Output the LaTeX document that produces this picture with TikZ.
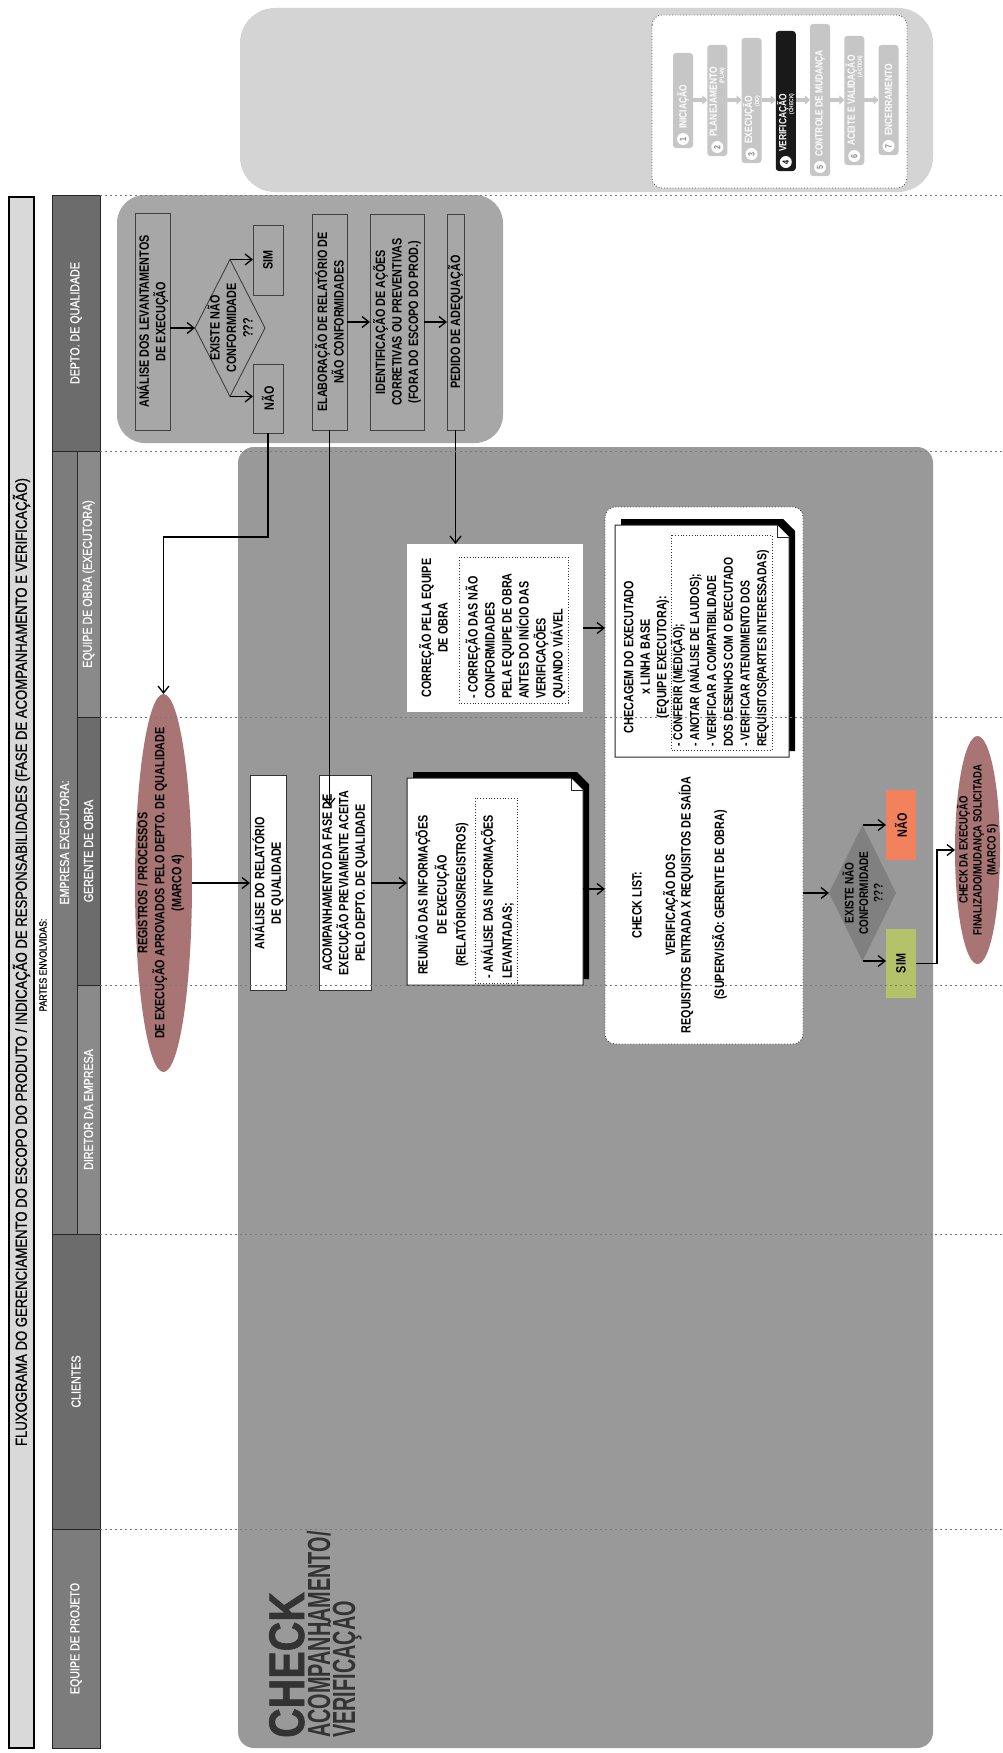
\documentclass[tikz,border=0pt]{standalone}
\usepackage{fontspec}
\setmainfont{Liberation Sans}[FakeStretch=0.8]
\newfontfamily\headfont{Liberation Sans}[FakeStretch=0.82,FakeBold=0.8]
\newfontfamily\checkfont{Liberation Sans}[FakeStretch=0.62]
\newfontfamily\checkbig{Liberation Sans}[FakeStretch=0.82,FakeBold=1.2]
\usetikzlibrary{shapes.geometric,arrows.meta,calc}

\definecolor{topgray}{HTML}{D4D4D4}
\definecolor{qgray}{HTML}{A7A7A7}
\definecolor{biggray}{HTML}{999999}
\definecolor{hdark}{HTML}{6C6C6C}
\definecolor{hmid}{HTML}{7C7C7C}
\definecolor{hlight}{HTML}{8A8A8A}
\definecolor{titlegray}{HTML}{D9D9D9}
\definecolor{rose}{HTML}{A87574}
\definecolor{naored}{HTML}{F2825E}
\definecolor{simgreen}{HTML}{B4C36A}
\definecolor{stripgray}{HTML}{C6C6C6}
\definecolor{lanedot}{HTML}{7A7A7A}
\definecolor{dqgray}{HTML}{808080}

% document sheet with dog-ear and black drop shadow: x0 y0 x1 y1
\newcommand\docsheet[4]{%
  \fill[black] ({#1+6},{#2-6}) -- ({#3-6},{#2-6}) -- ({#3+6},{#2+6}) -- ({#3+6},{#4-6}) -- ({#1+6},{#4-6}) -- cycle;
  \draw[draw=black!85,line width=1pt,fill=white] (#1,#2) -- ({#3-12},#2) -- (#3,{#2+12}) -- (#3,#4) -- (#1,#4) -- cycle;
  \draw[draw=black!85,line width=0.8pt,fill=white] ({#3-12},#2) -- ({#3-12},{#2+12}) -- (#3,{#2+12});
}

\tikzset{
  vnode/.style 2 args={rotate=90,minimum width=#1,minimum height=#2,inner sep=0pt,outer sep=0pt},
  bx/.style={font=\bfseries\fontsize{13.5}{16.5}\selectfont,align=center,text=black},
  lbl/.style={bx,rotate=90,inner sep=0pt},
  qbx/.style={bx,draw=black!75,line width=0.9pt,fill=qgray},
  wbx/.style={bx,draw=black!80,line width=1pt,fill=white},
  hcell/.style={draw=black!85,line width=1pt,text=white,font=\headfont\fontsize{13}{14}\selectfont,align=center},
  flow/.style={line width=1.3pt,-{Straight Barb[length=7pt,width=11pt,line width=1.3pt]}},
  lane/.style={draw=lanedot,line width=1pt,dash pattern=on 2pt off 3pt},
  dotbox/.style={draw=black!80,line width=0.8pt,dotted},
  strip/.style={fill=stripgray,rounded corners=3pt},
  numc/.style={circle,fill=white,minimum size=12pt,inner sep=0pt,font=\bfseries\fontsize{9}{9}\selectfont,text=stripgray!70!black,rotate=90},
  striptxt/.style={rotate=90,anchor=west,text=white,font=\bfseries\fontsize{10.5}{8}\selectfont,align=right,inner sep=0pt},
  stepar/.style={draw=stripgray,line width=3.5pt,-{Triangle[length=5pt,width=9pt]}},
  bigtxt/.style={rotate=90,anchor=base west,inner sep=0pt,text=black!80},
}

\begin{document}
\begin{tikzpicture}[x=1pt,y=-1pt]
\useasboundingbox (0,0) rectangle (1003,1753);
\fill[white] (0,0) rectangle (1003,1753);

% ---------- title bar and lane headers ----------
\node[draw=black,line width=1.6pt,fill=titlegray,vnode={1551}{25}] (tbar) at (21.5,972.5) {};
\node[rotate=90,inner sep=0pt,font=\headfont\fontsize{16}{16}\selectfont] (ttl) at (21.5,962)
  {FLUXOGRAMA DO GERENCIAMENTO DO ESCOPO DO PRODUTO / INDICAÇÃO DE RESPONSABILIDADES (FASE DE ACOMPANHAMENTO E VERIFICAÇÃO)};
\node[rotate=90,inner sep=0pt,font=\headfont\fontsize{10.5}{10}\selectfont] (partes) at (43,965) {PARTES ENVOLVIDAS:};

\node[hcell,fill=hdark,vnode={256}{48}] (hdq) at (76,323) {DEPTO. DE QUALIDADE};
\node[hcell,fill=hmid,vnode={783}{25}] (hemp) at (64.5,842.5) {EMPRESA EXECUTORA:};
\node[hcell,fill=hlight,vnode={266}{23}] (heq) at (88.5,584) {EQUIPE DE OBRA (EXECUTORA)};
\node[hcell,fill=hdark,vnode={268}{23}] (hge) at (88.5,851) {GERENTE DE OBRA};
\node[hcell,fill=hlight,vnode={249}{23}] (hdi) at (88.5,1109.5) {DIRETOR DA EMPRESA};
\node[hcell,fill=hdark,vnode={295}{48}] (hcl) at (76,1381.5) {CLIENTES};
\node[hcell,fill=hmid,vnode={219}{48}] (hpr) at (76,1638.5) {EQUIPE DE PROJETO};

% ---------- phase strip panel ----------
\fill[topgray,rounded corners=35pt] (240,8) rectangle (933,192);
\draw[fill=white,draw=black!70,line width=0.8pt,dotted,rounded corners=10pt] (652,15) rectangle (907,188);

\node[strip,vnode={95}{20}] (s1) at (683,100.5) {};
\node[strip,vnode={111}{20}] (s2) at (717.25,100.5) {};
\node[strip,vnode={125}{20}] (s3) at (751.5,100.5) {};
\node[strip,vnode={140}{20},fill=black!90] (s4) at (785.75,101) {};
\node[strip,vnode={152}{20}] (s5) at (820,100) {};
\node[strip,vnode={129}{20}] (s6) at (854.25,100.5) {};
\node[strip,vnode={110}{20}] (s7) at (888.5,100) {};

\node[numc] (n1) at (683,139) {1};
\node[numc] (n2) at (717.25,147) {2};
\node[numc] (n3) at (751.5,154) {3};
\node[numc,text=black] (n4) at (785.75,162) {4};
\node[numc] (n5) at (820,167) {5};
\node[numc] (n6) at (854.25,156) {6};
\node[numc] (n7) at (888.5,146) {7};

\node[striptxt] (t1) at (683,129) {INICIAÇÃO};
\node[striptxt] (t2) at (717.25,137) {PLANEJAMENTO\\[-1pt]{\fontsize{6}{6}\selectfont (PLAN)}};
\node[striptxt] (t3) at (751.5,144) {EXECUÇÃO\\[-1pt]{\fontsize{6}{6}\selectfont (DO)}};
\node[striptxt] (t4) at (785.75,152) {VERIFICAÇÃO\\[-1pt]{\fontsize{6}{6}\selectfont (CHECK)}};
\node[striptxt] (t5) at (820,157) {CONTROLE DE MUDANÇA};
\node[striptxt] (t6) at (854.25,146) {ACEITE E VALIDAÇÃO\\[-1pt]{\fontsize{6}{6}\selectfont (ACTION)}};
\node[striptxt] (t7) at (888.5,136) {ENCERRAMENTO};

\coordinate (ay) at (0,100);
\draw[stepar] (s1.south |- ay) -- (s2.north |- ay);
\draw[stepar] (s2.south |- ay) -- (s3.north |- ay);
\draw[stepar] (s3.south |- ay) -- (s4.north |- ay);
\draw[stepar] (s4.south |- ay) -- (s5.north |- ay);
\draw[stepar] (s5.south |- ay) -- (s6.north |- ay);
\draw[stepar] (s6.south |- ay) -- (s7.north |- ay);

% ---------- quality department ----------
\fill[qgray,rounded corners=28pt] (117,195) rectangle (503,443);
\node[qbx,vnode={217}{35}] (lev) at (152.5,321.5) {ANÁLISE DOS LEVANTAMENTOS\\DE EXECUÇÃO};
\node[diamond,draw=black!75,line width=0.9pt,fill=qgray,vnode={137}{70}] (dq) at (230,328) {};
\node[lbl] (dqt) at (230,328) {EXISTE NÃO\\CONFORMIDADE\\???};
\node[qbx,vnode={70}{30}] (sim) at (268,260) {SIM};
\node[qbx,vnode={69}{30}] (nao) at (268,398.5) {NÃO};
\node[qbx,vnode={216}{35}] (ela) at (329.5,322) {ELABORAÇÃO DE RELATÓRIO DE\\NÃO CONFORMIDADES};
\node[qbx,vnode={216}{54}] (ide) at (397,322) {IDENTIFICAÇÃO DE AÇÕES\\CORRETIVAS OU PREVENTIVAS\\(FORA DO ESCOPO DO PROD.)};
\node[qbx,vnode={216}{17}] (ped) at (455.5,322) {PEDIDO DE ADEQUAÇÃO};

\draw[flow] (lev.south |- dq.north) -- (dq.north);
\draw[flow] (dq.east) -- (dq.east -| sim.north);
\draw[flow] (dq.west) -- (dq.west -| nao.north);
\draw[flow] (ela.south) -- (ide.north);
\draw[flow] (ide.south) -- (ped.north);

% ---------- execution area ----------
\fill[biggray,rounded corners=16pt] (238,447) rectangle (933,1748);

\node[bigtxt,font=\checkbig\bfseries\fontsize{50}{50}\selectfont] (chk) at (304,1738) {CHECK};
\node[bigtxt,font=\checkfont\bfseries\fontsize{32}{32}\selectfont] (acomp) at (330,1738) {ACOMPANHAMENTO/};
\node[bigtxt,font=\checkfont\bfseries\fontsize{32}{32}\selectfont] (verif) at (355,1738) {VERIFICAÇÃO};

\node[ellipse,fill=rose,vnode={378}{57}] (reg) at (163.5,883) {};
\node[lbl,font=\bfseries\fontsize{13.5}{17}\selectfont] (regt) at (161,883) {REGISTROS / PROCESSOS\\DE EXECUÇÃO APROVADOS PELO DEPTO. DE QUALIDADE\\(MARCO 4)};

\node[wbx,vnode={215}{36}] (anr) at (268,883) {ANÁLISE DO RELATÓRIO\\DE QUALIDADE};
\node[wbx,vnode={215}{52}] (acp) at (345,883) {ACOMPANHAMENTO DA FASE DE\\EXECUÇÃO PREVIAMENTE ACEITA\\PELO DEPTO. DE QUALIDADE};

% correction box
\node[fill=white,vnode={168}{176}] (cor) at (495,628) {};
\node[lbl] (cort) at (433.5,628) {CORREÇÃO PELA EQUIPE\\DE OBRA};
\node[dotbox,vnode={146}{109}] (cord) at (513.5,630) {};
\node[lbl,align=left,anchor=west,font=\bfseries\fontsize{13.5}{17}\selectfont] (corl) at (515.5,699)
  {- CORREÇÃO DAS NÃO\\CONFORMIDADES\\PELA EQUIPE DE OBRA\\ANTES DO INÍCIO DAS\\VERIFICAÇÕES\\QUANDO VIÁVEL};

% meeting document
\docsheet{407}{778}{583}{985}
\node[vnode={207}{176}] (reu) at (495,881.5) {};
\node[lbl,font=\bfseries\fontsize{13.5}{19}\selectfont] (reut) at (442,895) {REUNIÃO DAS INFORMAÇÕES\\DE EXECUÇÃO\\(RELATÓRIOS/REGISTROS)};
\node[dotbox,vnode={185}{42}] (reud) at (496,890.5) {};
\node[lbl,align=left,anchor=west,font=\bfseries\fontsize{13.5}{19}\selectfont] (reul) at (497.5,979) {- ANÁLISE DAS INFORMAÇÕES\\LEVANTADAS;};

% check list container
\node[draw=black!75,dotted,line width=0.9pt,fill=white,rounded corners=10pt,vnode={537}{198}] (ckl) at (704,775.5) {};
\node[lbl,font=\bfseries\fontsize{13.5}{15.5}\selectfont] (cklt) at (679.5,905)
  {CHECK LIST:\\[18pt]VERIFICAÇÃO DOS\\REQUISITOS ENTRADA X REQUISITOS DE SAÍDA\\[18pt](SUPERVISÃO: GERENTE DE OBRA)};

% checking document
\docsheet{615}{525}{789}{757}
\node[vnode={232}{174}] (che) at (702,641) {};
\node[lbl] (chet) at (646.5,657) {CHECAGEM DO EXECUTADO\\x LINHA BASE\\(EQUIPE EXECUTORA):};
\node[dotbox,vnode={215}{101}] (ched) at (721.5,642.5) {};
\node[lbl,align=left,anchor=west,font=\bfseries\fontsize{13}{16.8}\selectfont] (chel) at (720,747)
  {- CONFERIR (MEDIÇÃO);\\- ANOTAR (ANÁLISE DE LAUDOS);\\- VERIFICAR A COMPATIBILIDADE\\DOS DESENHOS COM O EXECUTADO\\- VERIFICAR ATENDIMENTO DOS\\REQUISITOS(PARTES INTERESSADAS)};

% final decision
\node[diamond,fill=dqgray,vnode={136}{67}] (dq2) at (862.5,893) {};
\node[lbl,font=\bfseries\fontsize{12.5}{14.5}\selectfont] (dq2t) at (862.5,893) {EXISTE NÃO\\CONFORMIDADE\\???};
\node[bx,fill=naored,vnode={70}{30}] (nao2) at (901,825) {NÃO};
\node[bx,fill=simgreen,vnode={69}{30}] (sim2) at (901,963.5) {SIM};
\node[ellipse,fill=rose,vnode={228}{45}] (fin) at (977.5,850) {};
\node[lbl,font=\bfseries\fontsize{12}{14}\selectfont] (fint) at (977.5,850) {CHECK DA EXECUÇÃO\\FINALIZADO/MUDANÇA SOLICITADA\\(MARCO 5)};

% ---------- connectors ----------
\coordinate (k1) at (163.5,537);
\draw[flow] (nao.west) |- (k1) -- (reg.east);
\draw[flow] (reg.south) -- (anr.north);
\coordinate (acpin) at (329.5,806);
\draw[flow] (ela.west) -- (acpin);
\draw[flow] (acp.south) -- (acp.south -| reu.north);
\draw[flow] (ped.west) -- (ped.west |- cor.east);
\draw[flow] (cor.south) -- (cor.south -| ckl.north);
\draw[flow] ($(reu.south)+(0,7.5)$) coordinate (r1) -- (r1 -| ckl.north);
\draw[flow] (ckl.south |- dq2.north) -- (dq2.north);
\draw[flow] (dq2.east) -- (dq2.east -| nao2.north);
\draw[flow] (dq2.west) -- (dq2.west -| sim2.north);
\draw[flow] (sim2.south) -- ++(21,0) |- (fin.north);

% ---------- lane separators ----------
\foreach \yy in {195,451,717,985,1234,1529}
  \draw[lane] (100,\yy) -- (1003,\yy);

\end{tikzpicture}
\end{document}
